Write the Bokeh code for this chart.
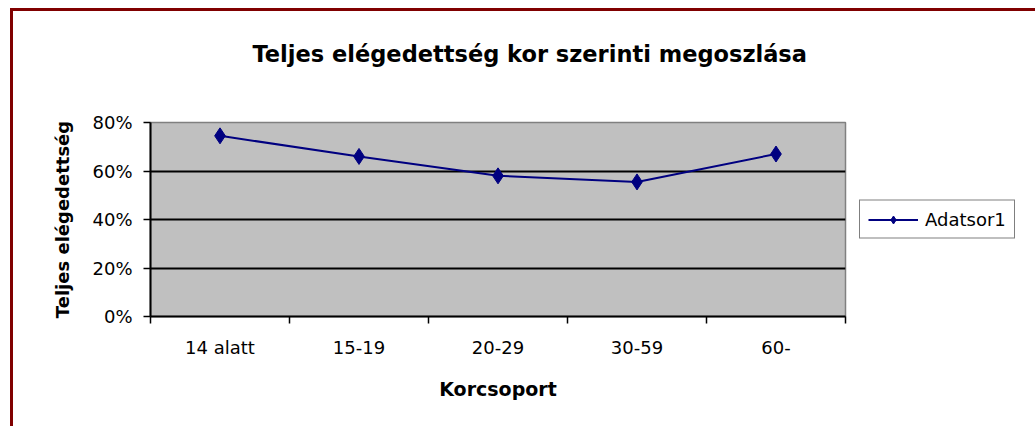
from bokeh.plotting import figure
from bokeh.models import (FixedTicker, NumeralTickFormatter, Range1d, Legend, LegendItem, Title,
                          ColumnDataSource)
from bokeh.embed import file_html
from bokeh.resources import INLINE

categories = ["14 alatt", "15-19", "20-29", "30-59", "60-"]
values = [0.745, 0.66, 0.58, 0.555, 0.67]
y_ticks = [0, 0.2, 0.4, 0.6, 0.8]
series_name = "Adatsor1"
title_text = "Teljes elégedettség kor szerinti megoszlása"
x_label = "Korcsoport"
y_label = "Teljes elégedettség"

FONT = "DejaVu Sans"
xs = [i + 0.5 for i in range(len(categories))]
src = ColumnDataSource(dict(x=xs, y=values))

p = figure(frame_width=695, frame_height=194, output_backend="svg", toolbar_location=None,
           x_range=Range1d(0, len(categories)), y_range=Range1d(0, 0.8),
           min_border_left=137, min_border_right=0, min_border_top=0, min_border_bottom=110)
p.styles = {"margin-top": "8px", "margin-left": "10px",
            "border-top": "3px solid #800000", "border-left": "3px solid #800000"}
p.background_fill_color = "#c0c0c0"
p.border_fill_color = "white"
p.outline_line_color = "#808080"
p.outline_line_width = 1.5

# spacer title next to the frame, then the real title above it
p.add_layout(Title(text=" ", text_font_size="1px", standoff=26), "above")
t = Title(text=title_text, align="left", offset=102, text_font=FONT,
          text_font_size="22.5px", text_font_style="bold", text_color="black", standoff=54)
p.add_layout(t, "above")

# x axis
p.xaxis.ticker = FixedTicker(ticks=xs, minor_ticks=list(range(len(categories) + 1)))
p.xaxis.major_label_overrides = {x: c for x, c in zip(xs, categories)}
p.xaxis.major_tick_out = 0
p.xaxis.major_tick_in = 0
p.xaxis.minor_tick_out = 7
p.xaxis.minor_tick_in = 0
p.xaxis.minor_tick_line_color = "black"
p.xaxis.minor_tick_line_width = 1.5
p.xaxis.axis_line_color = "black"
p.xaxis.axis_line_width = 2
p.xaxis.major_label_text_font = FONT
p.xaxis.major_label_text_font_size = "18px"
p.xaxis.major_label_text_color = "black"
p.xaxis.major_label_standoff = 13
p.xaxis.axis_label = x_label
p.xaxis.axis_label_text_font = FONT
p.xaxis.axis_label_text_font_size = "19px"
p.xaxis.axis_label_text_font_style = "bold"
p.xaxis.axis_label_text_color = "black"
p.xaxis.axis_label_standoff = 17

# y axis
p.yaxis.ticker = FixedTicker(ticks=y_ticks, minor_ticks=[])
p.yaxis.formatter = NumeralTickFormatter(format="0%")
p.yaxis.major_tick_out = 7
p.yaxis.major_tick_in = 0
p.yaxis.major_tick_line_width = 1.5
p.yaxis.major_tick_line_color = "black"
p.yaxis.axis_line_color = "black"
p.yaxis.axis_line_width = 2
p.yaxis.major_label_text_font = FONT
p.yaxis.major_label_text_font_size = "18px"
p.yaxis.major_label_text_color = "black"
p.yaxis.major_label_standoff = 11
p.yaxis.axis_label = y_label
p.yaxis.axis_label_text_font = FONT
p.yaxis.axis_label_text_font_size = "18px"
p.yaxis.axis_label_text_font_style = "bold"
p.yaxis.axis_label_text_color = "black"
p.yaxis.axis_label_standoff = 16

p.xgrid.visible = False
p.ygrid.ticker = FixedTicker(ticks=y_ticks[1:-1])
p.ygrid.grid_line_color = "black"
p.ygrid.grid_line_width = 2

line = p.line("x", "y", source=src, line_color="#000080", line_width=2)
pts = p.scatter("x", "y", source=src, marker="diamond", size=16,
                fill_color="#000080", line_color="#000080")

legend = Legend(items=[LegendItem(label=series_name, renderers=[line, pts])],
                location="center_left", border_line_color="black", border_line_width=1.5,
                background_fill_color="white", background_fill_alpha=1,
                label_text_font=FONT, label_text_font_size="18px", label_text_color="black",
                glyph_width=50, padding=8, margin=14, label_standoff=7, spacing=0)
p.add_layout(legend, "right")

open("out.html", "w").write(file_html(p, INLINE))
